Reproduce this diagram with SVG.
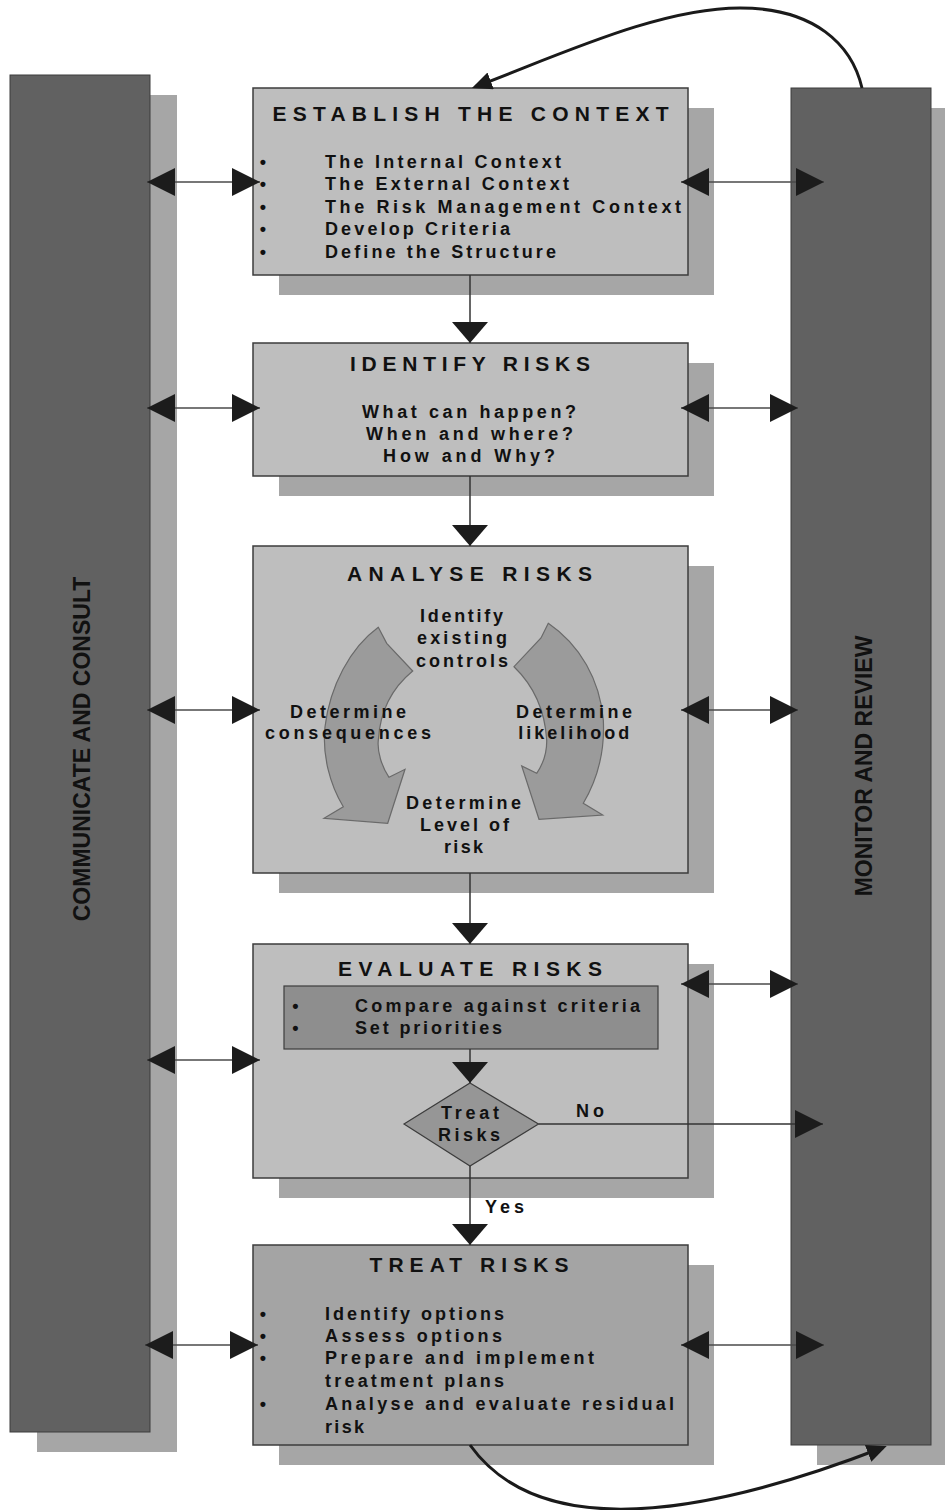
<svg xmlns="http://www.w3.org/2000/svg" width="945" height="1510" viewBox="0 0 945 1510">
<style>
text{font-family:"Liberation Sans",Arial,sans-serif;font-weight:bold;fill:#111}
.shadow{fill:#a6a6a6}
.col{fill:#616161;stroke:#3c3c3c;stroke-width:1}
.box{fill:#bebebe;stroke:#3c3c3c;stroke-width:1.5}
.boxd{fill:#a4a4a4;stroke:#3c3c3c;stroke-width:1.5}
.ttl{font-size:21px}
.itm{font-size:18px}
.coltxt{font-size:23px}
.hline{stroke:#4a4a4a;stroke-width:1.6;fill:none;marker-start:url(#hd);marker-end:url(#hd)}
.vline{stroke:#333;stroke-width:1.5;fill:none;marker-end:url(#vd)}
.curve{stroke:#1a1a1a;stroke-width:3;fill:none;marker-end:url(#cv)}
.blk{fill:#9b9b9b;stroke:#6a6a6a;stroke-width:1.2}
</style>
<defs>
<marker id="hd" viewBox="0 0 28 28" refX="28" refY="14" markerWidth="28" markerHeight="28" markerUnits="userSpaceOnUse" orient="auto-start-reverse"><path d="M0,0 L28,14 L0,28 z" fill="#1c1c1c"/></marker>
<marker id="vd" viewBox="0 0 21 36" refX="21" refY="18" markerWidth="21" markerHeight="36" markerUnits="userSpaceOnUse" orient="auto"><path d="M0,0 L21,18 L0,36 z" fill="#1c1c1c"/></marker>
<marker id="cv" viewBox="0 0 20 18" refX="16" refY="9" markerWidth="20" markerHeight="18" markerUnits="userSpaceOnUse" orient="auto"><path d="M0,0 L20,9 L0,18 z" fill="#1a1a1a"/></marker>
</defs>

<g id="communicate-consult">
<rect class="shadow" x="37" y="95" width="140" height="1357"/>
<rect class="col" x="10" y="75" width="140" height="1357"/>
<text class="coltxt" transform="translate(90,749) rotate(-90)" text-anchor="middle">COMMUNICATE AND CONSULT</text>
</g>

<g id="monitor-review">
<rect class="shadow" x="817" y="108" width="140" height="1357"/>
<rect class="col" x="791" y="88" width="140" height="1357"/>
<text class="coltxt" transform="translate(871.5,766) rotate(-90)" text-anchor="middle">MONITOR AND REVIEW</text>
</g>

<g id="establish-context">
<rect class="shadow" x="279" y="108" width="435" height="187"/>
<rect class="box" x="253" y="88" width="435" height="187"/>
<text class="ttl" x="272.5" y="120.5" textLength="396" lengthAdjust="spacing">ESTABLISH THE CONTEXT</text>
<g class="itm">
<text x="263" y="167.5" text-anchor="middle">•</text>
<text x="263" y="190" text-anchor="middle">•</text>
<text x="263" y="212.5" text-anchor="middle">•</text>
<text x="263" y="235" text-anchor="middle">•</text>
<text x="263" y="257.5" text-anchor="middle">•</text>
<text x="325" y="167.5" textLength="236" lengthAdjust="spacing">The Internal Context</text>
<text x="325" y="190" textLength="244" lengthAdjust="spacing">The External Context</text>
<text x="325" y="212.5" textLength="356" lengthAdjust="spacing">The Risk Management Context</text>
<text x="325" y="235" textLength="185" lengthAdjust="spacing">Develop Criteria</text>
<text x="325" y="257.5" textLength="231" lengthAdjust="spacing">Define the Structure</text>
</g>
</g>

<g id="identify-risks">
<rect class="shadow" x="279" y="363" width="435" height="133"/>
<rect class="box" x="253" y="343" width="435" height="133"/>
<text class="ttl" x="350" y="371" textLength="240" lengthAdjust="spacing">IDENTIFY RISKS</text>
<g class="itm">
<text x="362" y="417.7" textLength="214" lengthAdjust="spacing">What can happen?</text>
<text x="366" y="439.5" textLength="207" lengthAdjust="spacing">When and where?</text>
<text x="383" y="461.7" textLength="172" lengthAdjust="spacing">How and Why?</text>
</g>
</g>

<g id="analyse-risks">
<rect class="shadow" x="279" y="566" width="435" height="327"/>
<rect class="box" x="253" y="546" width="435" height="327"/>
<path class="blk" d="M378.3,627.3 L386.7,643.3 L412.7,671 C392,688 380,712 378.3,740 C377,752 382,767 389,777.3 L405,769.3 L387.7,823.3 L324,818.3 L343.3,806.7 C330,785 322,755 325,726.7 C330,686 350,648 378.3,627.3 Z"/>
<path class="blk" d="M548.3,623.3 L541,638 L514,666.7 C534,686 545,712 546.7,740 C547,752 543,764 536.7,773.3 L521.7,766 L539,819.3 L602.7,815 L583.3,803.3 C597,780 605,752 603.3,720 C600,680 580,645 548.3,623.3 Z"/>
<text class="ttl" x="347" y="580.7" textLength="245" lengthAdjust="spacing">ANALYSE RISKS</text>
<g class="itm">
<text x="420" y="621.7" textLength="83" lengthAdjust="spacing">Identify</text>
<text x="417" y="644" textLength="90" lengthAdjust="spacing">existing</text>
<text x="416" y="666.7" textLength="92" lengthAdjust="spacing">controls</text>
<text x="290" y="717.7" textLength="116" lengthAdjust="spacing">Determine</text>
<text x="265" y="739.3" textLength="166" lengthAdjust="spacing">consequences</text>
<text x="516" y="717.7" textLength="116" lengthAdjust="spacing">Determine</text>
<text x="518.3" y="739.3" textLength="111" lengthAdjust="spacing">likelihood</text>
<text x="406" y="808.7" textLength="115" lengthAdjust="spacing">Determine</text>
<text x="420" y="830.7" textLength="89" lengthAdjust="spacing">Level of</text>
<text x="444" y="853.3" textLength="39" lengthAdjust="spacing">risk</text>
</g>
</g>

<g id="evaluate-risks">
<rect class="shadow" x="279" y="964" width="435" height="234"/>
<rect class="box" x="253" y="944" width="435" height="234"/>
<text class="ttl" x="338" y="976" textLength="264" lengthAdjust="spacing">EVALUATE RISKS</text>
<rect x="284" y="986" width="374" height="63" fill="#8e8e8e" stroke="#3c3c3c" stroke-width="1.2"/>
<g class="itm">
<text x="295.5" y="1011.7" text-anchor="middle">•</text>
<text x="295.5" y="1034" text-anchor="middle">•</text>
<text x="355" y="1011.7" textLength="285" lengthAdjust="spacing">Compare against criteria</text>
<text x="355" y="1034" textLength="147" lengthAdjust="spacing">Set priorities</text>
</g>
</g>

<g id="treat-decision">
<polygon points="470,1083 538.5,1124 470,1166 404,1124" fill="#969696" stroke="#3c3c3c" stroke-width="1.2"/>
<text class="itm" x="441" y="1119" textLength="58" lengthAdjust="spacing">Treat</text>
<text class="itm" x="438" y="1141" textLength="62" lengthAdjust="spacing">Risks</text>
</g>

<g id="treat-risks">
<rect class="shadow" x="279" y="1265" width="435" height="200"/>
<rect class="boxd" x="253" y="1245" width="435" height="200"/>
<text class="ttl" x="369.5" y="1272.3" textLength="199" lengthAdjust="spacing">TREAT RISKS</text>
<g class="itm">
<text x="263" y="1320" text-anchor="middle">•</text>
<text x="263" y="1342" text-anchor="middle">•</text>
<text x="263" y="1364.3" text-anchor="middle">•</text>
<text x="263" y="1410" text-anchor="middle">•</text>
<text x="325" y="1320" textLength="179" lengthAdjust="spacing">Identify options</text>
<text x="325" y="1342" textLength="177" lengthAdjust="spacing">Assess options</text>
<text x="325" y="1364.3" textLength="269" lengthAdjust="spacing">Prepare and implement</text>
<text x="325" y="1386.7" textLength="179" lengthAdjust="spacing">treatment plans</text>
<text x="325" y="1410" textLength="349" lengthAdjust="spacing">Analyse and evaluate residual</text>
<text x="325" y="1432.7" textLength="39" lengthAdjust="spacing">risk</text>
</g>
</g>

<g id="connectors">
<line class="vline" x1="470" y1="275" x2="470" y2="343"/>
<line class="vline" x1="470" y1="476" x2="470" y2="546"/>
<line class="vline" x1="470" y1="873" x2="470" y2="944"/>
<line class="vline" x1="470" y1="1049" x2="470" y2="1083"/>
<line class="vline" x1="470" y1="1166" x2="470" y2="1245"/>
<line class="hline" x1="147" y1="182" x2="260" y2="182"/>
<line class="hline" x1="147" y1="408" x2="260" y2="408"/>
<line class="hline" x1="147" y1="710" x2="260" y2="710"/>
<line class="hline" x1="147" y1="1060" x2="260" y2="1060"/>
<line class="hline" x1="145" y1="1345" x2="258" y2="1345"/>
<line class="hline" x1="681" y1="182" x2="824" y2="182"/>
<line class="hline" x1="681" y1="408" x2="798" y2="408"/>
<line class="hline" x1="681" y1="710" x2="798" y2="710"/>
<line class="hline" x1="681" y1="984" x2="798" y2="984"/>
<line class="hline" x1="681" y1="1345" x2="824" y2="1345"/>
<line x1="538.5" y1="1124" x2="823" y2="1124" stroke="#333" stroke-width="1.5" marker-end="url(#hd)"/>
<text class="itm" x="576" y="1116.7" textLength="28" lengthAdjust="spacing">No</text>
<text class="itm" x="485" y="1212.7" textLength="39" lengthAdjust="spacing">Yes</text>
<path class="curve" d="M862,88 C852,45 815,8 740,8 C660,8 562,54 475.7,86.6"/>
<path class="curve" d="M470,1445 Q561,1572 883,1447.5"/>
</g>
</svg>
